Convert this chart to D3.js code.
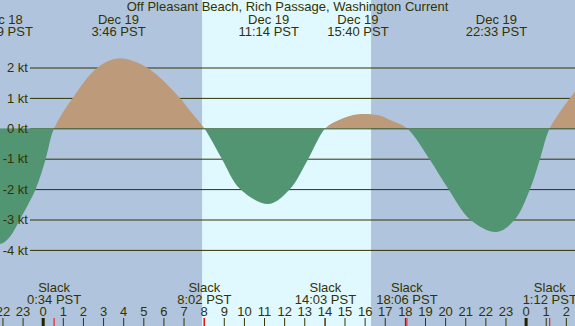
<!DOCTYPE html>
<html lang="en">
<head>
  <meta charset="UTF-8">
  <title>Off Pleasant Beach, Rich Passage, Washington Current</title>
  <script src="https://d3js.org/d3.v7.min.js"></script>
  <style>
    html, body {
      margin: 0;
      padding: 0;
      background: #b0c4de;
    }
    svg text {
      font-family: "Liberation Sans", Arial, sans-serif;
      font-size: 13px;
      fill: #333300;
    }
  </style>
</head>
<body>
  <svg id="chart" width="575" height="326"></svg>
  <script>
    // hours from midnight Dec 19 (PST), current in knots
    var hours = [-2.25, -2.02, -1.63, -1.13, -0.35, 0.15, 0.567, 1.49, 2.73, 3.77, 5.17, 6.82, 7.33,
                 8.03, 8.90, 9.81, 11.23, 12.29, 13.20, 14.05, 14.78, 15.67, 16.76, 17.26, 18.10, 19.21,
                 20.16, 21.24, 22.55, 23.47, 24.22, 24.72, 25.20, 26.21, 26.50];
    var knots = [-3.78, -3.79, -3.57, -3.0, -2.0, -1.00, 0, 1.0, 2.0, 2.30, 2.0, 1.0, 0.57,
                 0, -1.0, -2.0, -2.49, -2.0, -1.0, 0, 0.29, 0.46, 0.42, 0.27, 0, -1.0,
                 -2.0, -3.0, -3.41, -3.0, -2.0, -1.0, 0, 1.0, 1.25];

    var peakHours = [-2.017, 3.767, 11.233, 15.667, 22.55];
    var peakDates = ["Dec 18", "Dec 19", "Dec 19", "Dec 19", "Dec 19"];
    var peakTimes = ["21:59 PST", "3:46 PST", "11:14 PST", "15:40 PST", "22:33 PST"];

    var slackHours = [0.567, 8.033, 14.05, 18.1, 25.2];
    var slackTimes = ["0:34 PST", "8:02 PST", "14:03 PST", "18:06 PST", "1:12 PST"];

    var sunrise = 7.92, sunset = 16.32;
    var knotTicks = [2, 1, 0, -1, -2, -3, -4];
    var hourTicks = d3.range(-2, 27);

    var W = 575, H = 326;
    var svg = d3.select("#chart");

    var x = d3.scaleLinear().domain([0, 24]).range([42.7, 525.6]);
    var y = d3.scaleLinear().domain([-4, 2]).range([249.9, 67.5]);

    var data = hours.map(function(h, i) { return { h: h, v: knots[i] }; });

    // night / day bands
    svg.append("rect").attr("x", 0).attr("y", 0).attr("width", W).attr("height", H).attr("fill", "#b0c4de");
    svg.append("rect")
      .attr("x", x(sunrise)).attr("y", 0)
      .attr("width", x(sunset) - x(sunrise)).attr("height", H)
      .attr("fill", "#e0f8ff");

    // grid lines under the fill
    svg.append("g")
      .attr("transform", "translate(30,0)")
      .call(d3.axisLeft(y).tickValues(knotTicks).tickSize(-(W - 30)).tickFormat(""))
      .call(function(g) {
        g.select(".domain").remove();
        g.selectAll("line").attr("stroke", "#333300").attr("stroke-width", 1);
      });

    var defs = svg.append("defs");
    defs.append("clipPath").attr("id", "above")
      .append("rect").attr("x", 0).attr("y", 0).attr("width", W).attr("height", y(0));
    defs.append("clipPath").attr("id", "below")
      .append("rect").attr("x", 0).attr("y", y(0)).attr("width", W).attr("height", H - y(0));

    var area = d3.area()
      .curve(d3.curveCatmullRom.alpha(0.5))
      .x(function(d) { return x(d.h); })
      .y0(y(0))
      .y1(function(d) { return y(d.v); });

    svg.append("path").datum(data)
      .attr("clip-path", "url(#above)")
      .attr("fill", "#bd9b7a")
      .attr("d", area);
    svg.append("path").datum(data)
      .attr("clip-path", "url(#below)")
      .attr("fill", "#529572")
      .attr("d", area);

    // kt labels on top
    svg.append("g")
      .attr("transform", "translate(30,0)")
      .call(d3.axisLeft(y).tickValues(knotTicks).tickSize(0).tickPadding(2)
        .tickFormat(function(d) { return d + " kt"; }))
      .call(function(g) {
        g.select(".domain").remove();
        g.selectAll("text").attr("font-size", null).attr("font-family", null).attr("fill", null);
      });

    // title
    svg.append("text")
      .attr("x", W / 2).attr("y", 11)
      .attr("text-anchor", "middle")
      .text("Off Pleasant Beach, Rich Passage, Washington Current");

    // max current labels
    peakHours.forEach(function(h, i) {
      svg.append("text").attr("x", x(h)).attr("y", 24).attr("text-anchor", "middle").text(peakDates[i]);
      svg.append("text").attr("x", x(h)).attr("y", 36).attr("text-anchor", "middle").text(peakTimes[i]);
    });

    // slack labels
    slackHours.forEach(function(h, i) {
      svg.append("text").attr("x", x(h)).attr("y", 292).attr("text-anchor", "middle").text("Slack");
      svg.append("text").attr("x", x(h)).attr("y", 304).attr("text-anchor", "middle").text(slackTimes[i]);
    });

    // hour axis
    svg.append("g")
      .attr("transform", "translate(0," + H + ")")
      .call(d3.axisTop(x).tickValues(hourTicks).tickSize(8).tickPadding(2)
        .tickFormat(function(h) { return ((h % 24) + 24) % 24; }))
      .call(function(g) {
        g.select(".domain").remove();
        g.selectAll("line").attr("stroke", "#333300");
        g.selectAll("text").attr("font-size", null).attr("font-family", null).attr("fill", null);
        g.selectAll(".tick").filter(function(h) { return h % 24 === 0; })
          .select("line").attr("stroke", "#222200").attr("stroke-width", 3);
      });

    // slack markers
    svg.append("g").selectAll("line")
      .data(slackHours)
      .join("line")
      .attr("x1", function(h) { return x(h); })
      .attr("x2", function(h) { return x(h); })
      .attr("y1", H - 8).attr("y2", H)
      .attr("stroke", "#ff0000")
      .attr("stroke-width", 1);
  </script>
</body>
</html>
